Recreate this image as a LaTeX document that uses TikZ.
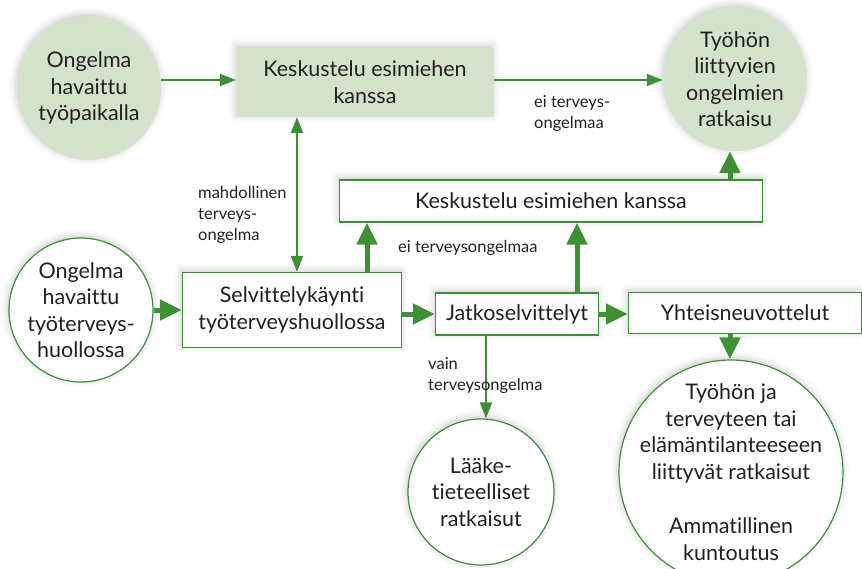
\documentclass[tikz,border=0pt]{standalone}
\usepackage{fontspec}
\setmainfont[Ligatures=NoCommon]{Lato}
\usepackage{tikz}
\definecolor{vihrea}{RGB}{62,143,54}
\definecolor{vaalea}{RGB}{211,226,203}
\definecolor{teksti}{RGB}{35,31,32}
\usetikzlibrary{arrows.meta, shadows.blur}

\begin{document}
\begin{tikzpicture}[x=1pt, y=-1pt,
    every node/.style={text=teksti, align=center},
    varjo/.style={blur shadow={shadow xshift=-1pt, shadow yshift=2pt, shadow blur radius=7pt, shadow opacity=22}},
    iso/.style={font=\fontsize{21.5}{26.5}\selectfont},
    pieni/.style={font=\fontsize{16.5}{21}\selectfont, align=left, inner sep=0pt},
    ympyra/.style={circle, iso, varjo, inner sep=-20pt},
    taytetty/.style={ympyra, fill=vaalea},
    avoin/.style={ympyra, fill=white, draw=vihrea, line width=1.2pt},
    laatikko/.style={rectangle, iso, varjo, fill=white, draw=vihrea, line width=1.2pt, inner sep=0pt},
    ohut/.style={draw=vihrea, line width=2pt, -{Triangle[width=12pt,length=16pt]}},
    kaksi/.style={ohut, {Triangle[width=12pt,length=16pt]}-{Triangle[width=12pt,length=16pt]}},
    paksu/.style={draw=vihrea, line width=5pt, -{Triangle[width=20pt,length=22pt]}}]
    \useasboundingbox (0,0) rectangle (862,568);
    % Työpaikka
    \node[taytetty, minimum size=144pt] (tyopaikka) at (89,88) {Ongelma\\havaittu\\työpaikalla};
    \node[laatikko, fill=vaalea, draw=none, minimum width=257pt, minimum height=69pt] (esimies1) at (365,82) {Keskustelu esimiehen\\kanssa};
    \node[taytetty, minimum size=144pt] (tyoratkaisu) at (735,79) {Työhön\\liittyvien\\ongelmien\\ratkaisu};
    % Työterveyshuolto
    \node[laatikko, minimum width=423pt, minimum height=42pt] (esimies2) at (551,201) {Keskustelu esimiehen kanssa};
    \node[avoin, minimum size=144pt] (tth) at (81,310) {Ongelma\\havaittu\\työterveys-\\huollossa};
    \node[laatikko, minimum width=219pt, minimum height=75pt] (selvittely) at (292,310) {Selvittelykäynti\\työterveyshuollossa};
    \node[laatikko, minimum width=163pt, minimum height=42pt] (jatko) at (517,314) {Jatkoselvittelyt};
    \node[laatikko, minimum width=233pt, minimum height=41pt] (yhteis) at (745,313) {Yhteisneuvottelut};
    \node[avoin, minimum size=146pt] (laake) at (481,492) {Lääke-\\tieteelliset\\ratkaisut};
    \node[avoin, minimum size=224pt] (ammatti) at (731,472) {Työhön ja\\terveyteen tai\\elämäntilanteeseen\\liittyvät ratkaisut\\[28pt]Ammatillinen\\kuntoutus};
    % Ohuet nuolet
    \draw[ohut] ([yshift=8pt]tyopaikka.east) -- ([yshift=8pt]tyopaikka.east -| esimies1.west);
    \draw[ohut] ([yshift=2pt]esimies1.east) -- ([yshift=2pt]esimies1.east -| tyoratkaisu.west);
    \draw[kaksi] ([xshift=5pt]selvittely.north) -- ([xshift=5pt]selvittely.north |- esimies1.south);
    \draw[ohut] ([xshift=-31pt]jatko.south) -- ([xshift=-31pt]jatko.south |- laake.north);
    % Paksut nuolet
    \draw[paksu] (tth.east) -- (selvittely.west);
    \draw[paksu] (selvittely.east |- jatko.west) -- (jatko.west);
    \draw[paksu] (jatko.east) -- (jatko.east -| yhteis.west);
    \draw[paksu] ([xshift=75pt]selvittely.north) -- ([xshift=75pt]selvittely.north |- esimies2.south);
    \draw[paksu] ([xshift=60pt]jatko.north) -- ([xshift=60pt]jatko.north |- esimies2.south);
    \draw[paksu] ([xshift=179pt]esimies2.north) -- ([xshift=179pt]esimies2.north |- tyoratkaisu.south);
    \draw[paksu] ([xshift=-15pt]yhteis.south) -- ([xshift=-15pt]yhteis.south |- ammatti.north);
    % Selitteet
    \node[pieni, anchor=north west] (eiterveys1) at (534,95) {ei terveys-\\ongelmaa};
    \node[pieni, anchor=north west] (mahdollinen) at (198,186) {mahdollinen\\terveys-\\ongelma};
    \node[pieni, anchor=west] (eiterveys2) at (398,248) {ei terveysongelmaa};
    \node[pieni, anchor=north west] (vain) at (428,357) {vain\\terveysongelma};
\end{tikzpicture}
\end{document}
